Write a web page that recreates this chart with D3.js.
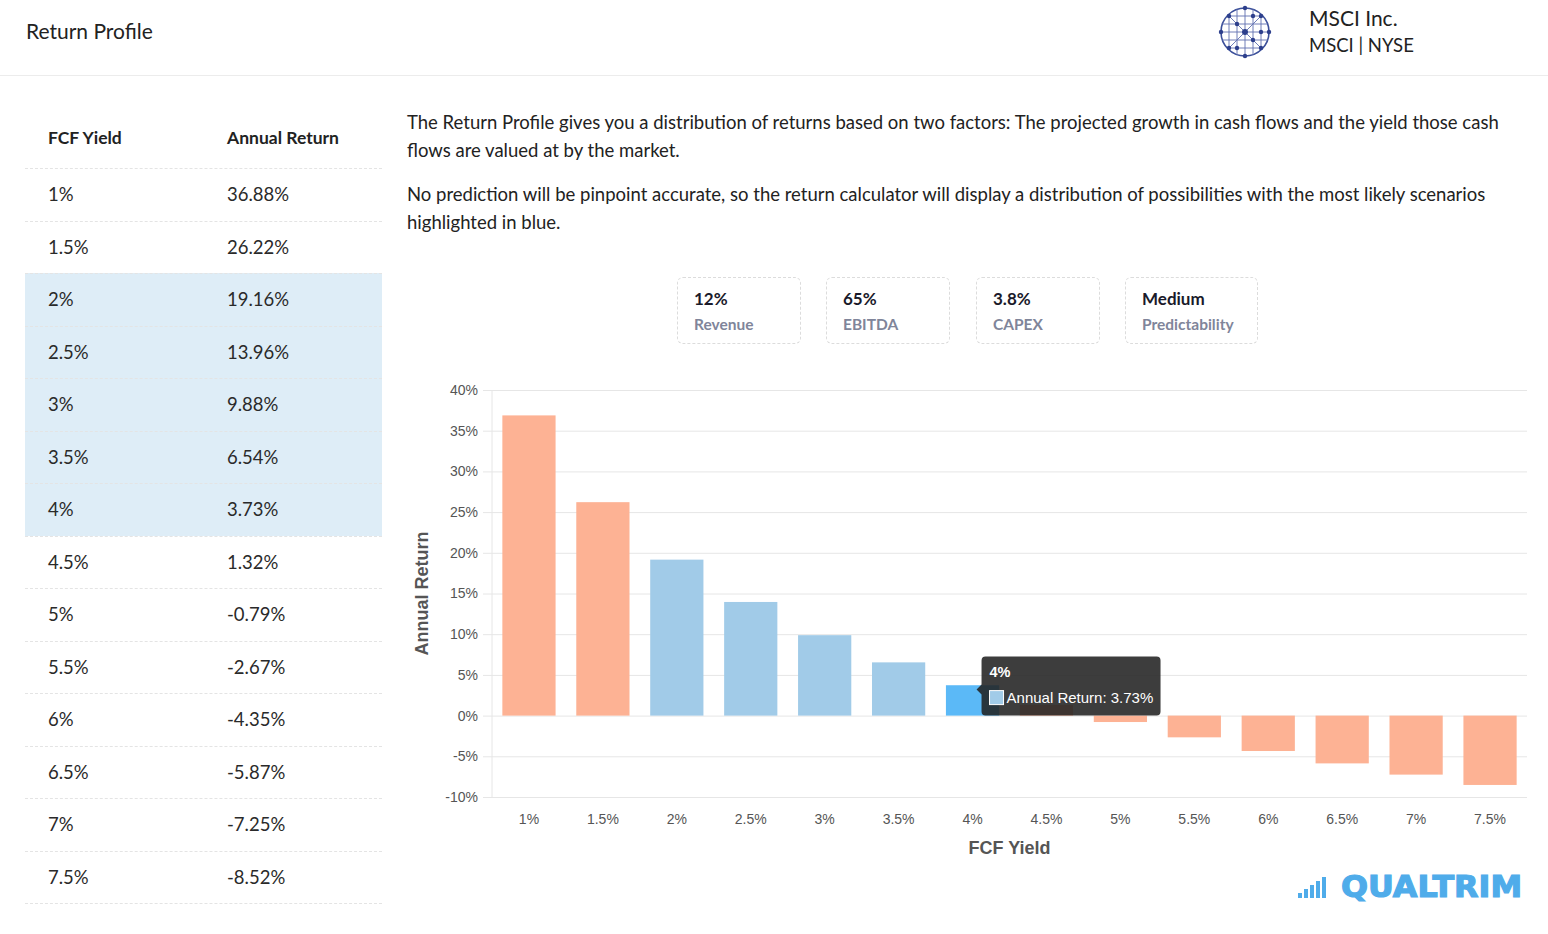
<!DOCTYPE html>
<html>
<head>
<meta charset="utf-8">
<script src="https://cdn.jsdelivr.net/npm/d3@7"></script>
<style>
  body { margin: 0; background: #fff; font-family: Lato, "Open Sans", sans-serif; color: #333; }
  #page { position: relative; width: 1548px; height: 934px; overflow: hidden; }
  .abs { position: absolute; white-space: nowrap; }
  #header { position: absolute; left: 0; top: 0; width: 1548px; height: 75px; border-bottom: 1px solid #ececec; }
  .para { position: absolute; left: 407px; width: 1110px; font-size: 18.5px; line-height: 28px; color: #222; }
  .card { position: absolute; top: 277px; height: 67px; border: 1px dashed #dcdcdc; border-radius: 6px; box-sizing: border-box; }
  .card .v { position: absolute; left: 16px; top: 10px; font-size: 17px; font-weight: bold; color: #1a1a2a; }
  .card .l { position: absolute; left: 16px; top: 37px; font-size: 15.5px; font-weight: bold; color: #80859a; }
</style>
</head>
<body>
<div id="page">
  <div id="header"></div>
  <div class="abs" style="left:26px; top:18px; font-size:21px; color:#222;">Return Profile</div>
  <svg id="logo" class="abs" style="left:1216px; top:4px;" width="60" height="58"></svg>
  <div class="abs" style="left:1309px; top:5px; font-size:21px; color:#222;">MSCI Inc.</div>
  <div class="abs" style="left:1309px; top:34px; font-size:18.5px; color:#222;">MSCI | NYSE</div>

  <div id="table"></div>

  <div class="para" style="top:108px;">The Return Profile gives you a distribution of returns based on two factors: The projected growth in cash flows and the yield those cash flows are valued at by the market.</div>
  <div class="para" style="top:180px;">No prediction will be pinpoint accurate, so the return calculator will display a distribution of possibilities with the most likely scenarios highlighted in blue.</div>

  <div id="cards"></div>
  <svg id="chart" class="abs" style="left:400px; top:370px;" width="1148" height="500"></svg>
  <svg id="brand" class="abs" style="left:1290px; top:866px;" width="240" height="40"></svg>
</div>
<script>
"use strict";

// data
var yields = ["1%", "1.5%", "2%", "2.5%", "3%", "3.5%", "4%", "4.5%", "5%", "5.5%", "6%", "6.5%", "7%", "7.5%"];
var returns = [36.88, 26.22, 19.16, 13.96, 9.88, 6.54, 3.73, 1.32, -0.79, -2.67, -4.35, -5.87, -7.25, -8.52];
var likely = ["2%", "2.5%", "3%", "3.5%", "4%"];
var yTicks = [40, 35, 30, 25, 20, 15, 10, 5, 0, -5, -10];
var cardValues = ["12%", "65%", "3.8%", "Medium"];
var cardLabels = ["Revenue", "EBITDA", "CAPEX", "Predictability"];
var hovered = "4%";

// ---- table ----
var table = d3.select("#table");
var rowH = 52.5, tableTop = 168;
table.append("div").attr("class", "abs")
  .style("left", "48px").style("top", "127px")
  .style("font-size", "17.5px").style("font-weight", "bold").style("color", "#222")
  .text("FCF Yield");
table.append("div").attr("class", "abs")
  .style("left", "227px").style("top", "127px")
  .style("font-size", "17.5px").style("font-weight", "bold").style("color", "#222")
  .text("Annual Return");

yields.forEach(function(d, i) {
  var top = tableTop + i * rowH;
  var row = table.append("div").attr("class", "abs")
    .style("left", "25px").style("top", top + "px")
    .style("width", "357px").style("height", rowH + "px")
    .style("border-top", "1px dashed #e4e4e4")
    .style("box-sizing", "border-box")
    .style("background", likely.includes(d) ? "#deedf7" : "none");
  row.append("div").attr("class", "abs")
    .style("left", "23px").style("top", "14px").style("font-size", "18.5px").style("color", "#2a2a2a")
    .text(d);
  row.append("div").attr("class", "abs")
    .style("left", "202px").style("top", "14px").style("font-size", "18.5px").style("color", "#2a2a2a")
    .text(returns[i].toFixed(2) + "%");
});
table.append("div").attr("class", "abs")
  .style("left", "25px").style("top", (tableTop + yields.length * rowH) + "px")
  .style("width", "357px").style("border-top", "1px dashed #e4e4e4");

// ---- cards ----
var cardX = [677, 826, 976, 1125];
var cardW = [124, 124, 124, 133];
cardValues.forEach(function(v, i) {
  var c = d3.select("#cards").append("div").attr("class", "card")
    .style("left", cardX[i] + "px").style("width", cardW[i] + "px");
  c.append("div").attr("class", "v").text(v);
  c.append("div").attr("class", "l").text(cardLabels[i]);
});

// ---- logo globe ----
var logo = d3.select("#logo");
var gc = logo.append("g").attr("transform", "translate(29,28)");
gc.append("circle").attr("r", 24).attr("fill", "#fff").attr("stroke", "#3b4f9a").attr("stroke-width", 1.6);
var gl = [-16, -8, 0, 8, 16];
gl.forEach(function(p) {
  var h = Math.sqrt(24 * 24 - p * p);
  gc.append("line").attr("x1", p).attr("x2", p).attr("y1", -h).attr("y2", h).attr("stroke", "#6070b0").attr("stroke-width", 0.9);
  gc.append("line").attr("y1", p).attr("y2", p).attr("x1", -h).attr("x2", h).attr("stroke", "#6070b0").attr("stroke-width", 0.9);
});
[[-17, -17, 17, 17], [-17, 17, 17, -17]].forEach(function(l) {
  gc.append("line").attr("x1", l[0]).attr("y1", l[1]).attr("x2", l[2]).attr("y2", l[3]).attr("stroke", "#6070b0").attr("stroke-width", 0.9);
});
[[0, 0], [-16, -16], [16, -16], [-16, 16], [16, 16], [-8, -8], [8, 8], [0, -24], [0, 24], [-24, 0], [24, 0], [-8, 16], [8, -16], [16, 0]].forEach(function(p) {
  gc.append("circle").attr("cx", p[0]).attr("cy", p[1]).attr("r", p[0] === 0 && p[1] === 0 ? 3 : 2.2).attr("fill", "#2d3f8c");
});

// ---- chart ----
var svg = d3.select("#chart");
var margin = { left: 92, right: 21, top: 20, bottom: 73 };
var w = 1148 - margin.left - margin.right,
    h = 500 - margin.top - margin.bottom;
var g = svg.append("g").attr("transform", "translate(" + margin.left + "," + margin.top + ")");

var x = d3.scaleBand().domain(yields).range([0, w]).paddingInner(0.28).paddingOuter(0.14);
var y = d3.scaleLinear().domain([-10, 40]).range([h, 0]);

// grid + y labels
var yAxis = d3.axisLeft(y).tickValues(yTicks).tickSize(-w - 9).tickFormat(function(d) { return d + "%"; });
var yg = g.append("g").call(yAxis);
yg.select(".domain").remove();
yg.selectAll(".tick line").attr("stroke", "#e6e6e6").attr("x1", -9).attr("x2", w);
yg.selectAll(".tick text").attr("x", -14).attr("fill", "#555")
  .style("font-family", "Arial, 'Liberation Sans', sans-serif").style("font-size", "14px");

// y axis line
g.append("line").attr("x1", 0).attr("x2", 0).attr("y1", 0).attr("y2", h).attr("stroke", "#e6e6e6");

// x labels
var xAxis = d3.axisBottom(x).tickSize(0);
var xg = g.append("g").attr("transform", "translate(0," + h + ")").call(xAxis);
xg.select(".domain").remove();
xg.selectAll(".tick text").attr("dy", "0").attr("y", 27).attr("fill", "#555")
  .style("font-family", "Arial, 'Liberation Sans', sans-serif").style("font-size", "14px");

// bars
g.selectAll("rect.bar").data(yields).join("rect")
  .attr("class", "bar")
  .attr("x", function(d) { return x(d); })
  .attr("width", x.bandwidth())
  .attr("y", function(d, i) { return y(Math.max(0, returns[i])); })
  .attr("height", function(d, i) { return Math.abs(y(returns[i]) - y(0)); })
  .attr("fill", function(d) {
    if (d === hovered) return "#5bb9f7";
    return likely.includes(d) ? "#a1cbe8" : "#fdb294";
  });

// axis titles
g.append("text")
  .attr("transform", "translate(" + (-64) + "," + (h / 2) + ") rotate(-90)")
  .attr("text-anchor", "middle")
  .style("font-family", "Arial, 'Liberation Sans', sans-serif").style("font-size", "18px").style("font-weight", "bold")
  .attr("fill", "#555")
  .text("Annual Return");
g.append("text")
  .attr("x", w / 2).attr("y", h + 57)
  .attr("text-anchor", "middle")
  .style("font-family", "Arial, 'Liberation Sans', sans-serif").style("font-size", "18px").style("font-weight", "bold")
  .attr("fill", "#555")
  .text("FCF Yield");

// tooltip
var hi = yields.indexOf(hovered);
var tx = x(hovered) + x.bandwidth() / 2 + 9, ty = y(0) - 59;
var tip = g.append("g").attr("transform", "translate(" + tx + "," + ty + ")");
tip.append("path")
  .attr("d", "M4,0 H175 Q179,0 179,4 V55 Q179,59 175,59 H4 Q0,59 0,55 V38 L-5,33 L0,28 V4 Q0,0 4,0 Z")
  .attr("fill", "#222").attr("fill-opacity", 0.88);
tip.append("text").attr("x", 8).attr("y", 20)
  .style("font-family", "Arial, 'Liberation Sans', sans-serif").style("font-size", "14.5px").style("font-weight", "bold")
  .attr("fill", "#fff").text(hovered);
tip.append("rect").attr("x", 8).attr("y", 34).attr("width", 14).attr("height", 14)
  .attr("fill", "#a1cbe8").attr("stroke", "#fff").attr("stroke-width", 1);
tip.append("text").attr("x", 25).attr("y", 46)
  .style("font-family", "Arial, 'Liberation Sans', sans-serif").style("font-size", "15px")
  .attr("fill", "#fff").text("Annual Return: " + returns[hi].toFixed(2) + "%");

// ---- brand ----
var brand = d3.select("#brand");
[5, 9, 13, 17, 21].forEach(function(bh, i) {
  brand.append("rect").attr("x", 8 + i * 6).attr("y", 32 - bh).attr("width", 4).attr("height", bh).attr("fill", "#4facea");
});
brand.append("text").attr("x", 51).attr("y", 31)
  .style("font-family", "'DejaVu Sans', Arial, sans-serif").style("font-size", "30px").style("font-weight", "900")
  .attr("fill", "#4facea").attr("stroke", "#4facea").attr("stroke-width", 1.2)
  .attr("textLength", 181).attr("lengthAdjust", "spacingAndGlyphs")
  .text("QUALTRIM");
</script>
</body>
</html>
